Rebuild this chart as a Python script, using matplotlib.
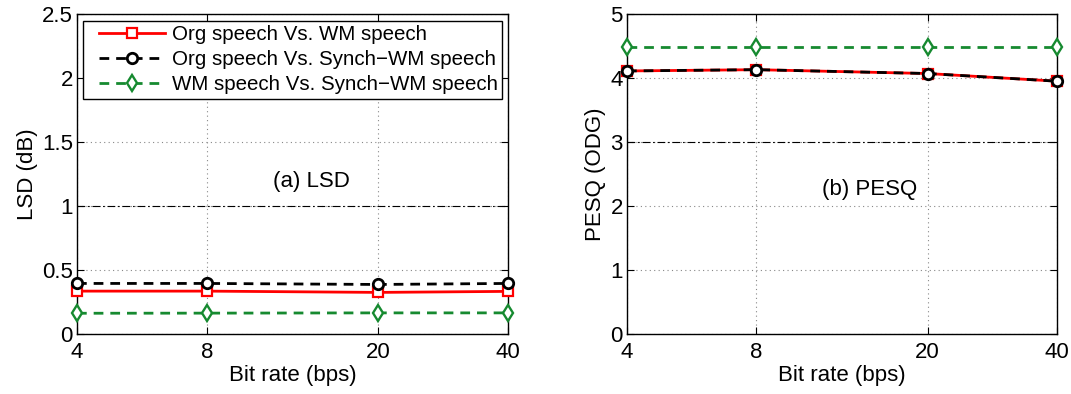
import numpy as np
import matplotlib
matplotlib.use("Agg")
import matplotlib.pyplot as plt
from matplotlib.ticker import FixedLocator, NullLocator
from matplotlib.legend_handler import HandlerLine2D

plt.rcParams['font.family'] = ['Liberation Sans', 'DejaVu Sans']

bit_rates = [4, 8, 20, 40]
tick_labels = ['4', '8', '20', '40']

series_labels = ['Org speech Vs. WM speech',
                 'Org speech Vs. Synch\u2212WM speech',
                 'WM speech Vs. Synch\u2212WM speech']

lsd_org_wm = [0.335, 0.335, 0.325, 0.333]
lsd_org_synch = [0.395, 0.395, 0.387, 0.395]
lsd_wm_synch = [0.162, 0.163, 0.165, 0.165]

pesq_org_wm = [4.11, 4.13, 4.07, 3.95]
pesq_org_synch = [4.11, 4.13, 4.07, 3.95]
pesq_wm_synch = [4.49, 4.49, 4.49, 4.49]

lsd_threshold = 1.0
pesq_threshold = 3.0

RED = '#ff0000'
BLACK = '#000000'
GREEN = '#168a30'
FS = 16


class InsetLineHandler(HandlerLine2D):
    """Legend line handler that leaves a blank margin left of the sample."""

    def __init__(self, inset=10, **kw):
        super().__init__(**kw)
        self.inset = inset

    def create_artists(self, legend, orig_handle, xdescent, ydescent,
                       width, height, fontsize, trans):
        return super().create_artists(legend, orig_handle,
                                      xdescent - self.inset, ydescent,
                                      width - self.inset, height,
                                      fontsize, trans)


fig = plt.figure(figsize=(10.71, 3.94), dpi=100)
ax1 = fig.add_axes([77/1071, 1-334/394, 431/1071, 320/394])
ax2 = fig.add_axes([627/1071, 1-334/394, 430/1071, 320/394])


def style_axes(ax, ymax, yticks, ylabel):
    ax.set_xscale('log')
    ax.set_xlim(4, 40)
    ax.xaxis.set_major_locator(FixedLocator(bit_rates))
    ax.xaxis.set_minor_locator(NullLocator())
    ax.set_xticklabels(tick_labels)
    ax.set_ylim(0, ymax)
    ax.set_yticks(yticks)
    ax.set_yticklabels([('%g' % t) for t in yticks])
    ax.tick_params(direction='in', top=True, right=True, labelsize=FS,
                   length=5, width=0.8)
    ax.tick_params(axis='x', pad=6)
    ax.tick_params(axis='y', pad=3)
    ax.grid(True, linestyle=(0, (1, 3)), color='#888888', linewidth=0.8)
    for s in ax.spines.values():
        s.set_linewidth(1.0)
        s.set_zorder(5)
    ax.set_xlabel('Bit rate (bps)', fontsize=FS, labelpad=1)
    ax.set_ylabel(ylabel, fontsize=FS, labelpad=3)


def draw_series(ax, a, b, c):
    l1, = ax.plot(bit_rates, a, '-', color=RED, lw=2.0, marker='s', ms=6.5,
                  mfc='white', mec=RED, mew=1.6, zorder=6, clip_on=False)
    l2, = ax.plot(bit_rates, b, '--', color=BLACK, lw=2.0, marker='o', ms=7.5,
                  mfc='white', mec=BLACK, mew=2.0, zorder=7, clip_on=False,
                  dashes=(3.5, 2.5))
    l3, = ax.plot(bit_rates, c, '--', color=GREEN, lw=2.0, marker='d', ms=8,
                  mfc='white', mec=GREEN, mew=1.7, zorder=6, clip_on=False,
                  dashes=(3.5, 2.5))
    return [l1, l2, l3]


style_axes(ax1, 2.5, [0, 0.5, 1, 1.5, 2, 2.5], 'LSD (dB)')
ax1.axhline(lsd_threshold, color='black', lw=0.8,
            linestyle=(0, (7, 2.5, 1.5, 2.5)), zorder=2)
handles = draw_series(ax1, lsd_org_wm, lsd_org_synch, lsd_wm_synch)
ax1.text(0.543, 0.475, '(a) LSD', transform=ax1.transAxes, ha='center',
         va='center', fontsize=FS)
leg = ax1.legend(handles, series_labels, loc='upper left',
                 bbox_to_anchor=(0.013, 0.978), fontsize=14.8, frameon=True,
                 fancybox=False, edgecolor='black', framealpha=1,
                 handlelength=3.8, handletextpad=0.35, borderpad=0.2,
                 labelspacing=0.3, borderaxespad=0.0,
                 handler_map={h: InsetLineHandler(inset=9) for h in handles})
leg.get_frame().set_linewidth(1.0)
leg.set_zorder(10)

style_axes(ax2, 5, [0, 1, 2, 3, 4, 5], 'PESQ (ODG)')
ax2.axhline(pesq_threshold, color='black', lw=0.8,
            linestyle=(0, (7, 2.5, 1.5, 2.5)), zorder=2)
draw_series(ax2, pesq_org_wm, pesq_org_synch, pesq_wm_synch)
ax2.text(0.565, 0.45, '(b) PESQ', transform=ax2.transAxes, ha='center',
         va='center', fontsize=FS)

fig.savefig('out.png', dpi=100)
